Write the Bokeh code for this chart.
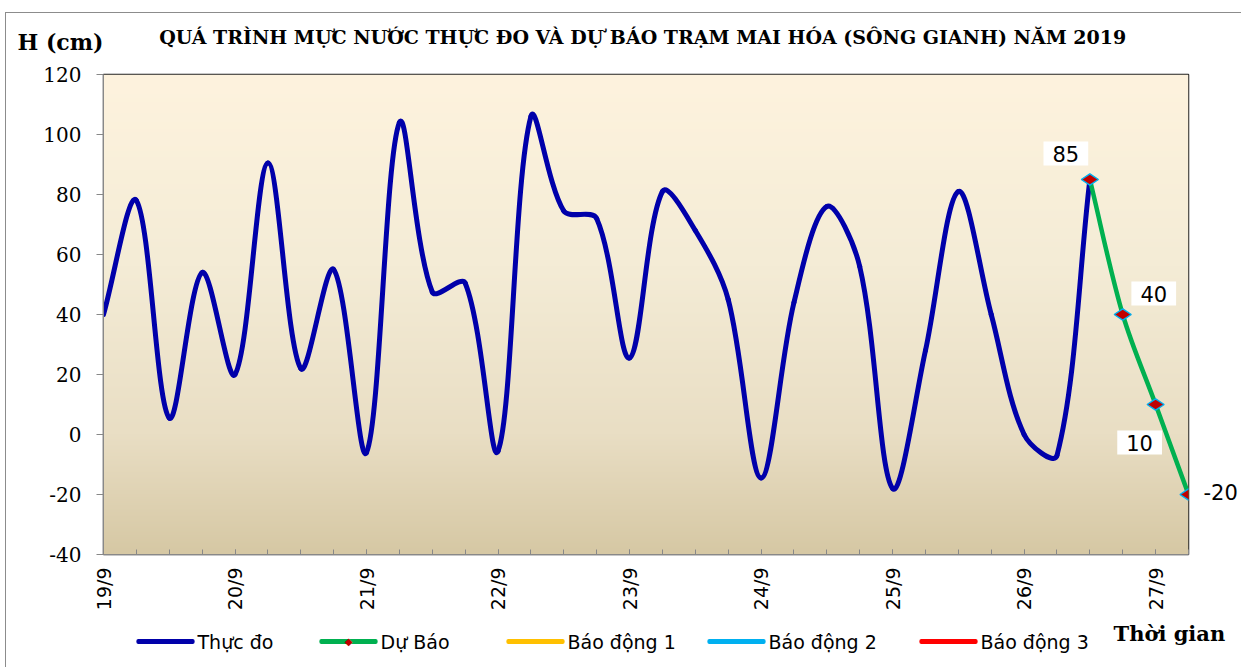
import numpy as np
from bokeh.plotting import figure
from bokeh.models import FixedTicker, Label, Range1d
from bokeh.embed import file_html
from bokeh.resources import INLINE

# ---------------- data ----------------
DATES = ["19/9", "20/9", "21/9", "22/9", "23/9", "24/9", "25/9", "26/9", "27/9"]
STEPS_PER_DAY = 4  # one value every 6 hours
MEASURED = [40, 78, 5.5, 54, 20, 90.5, 22, 55, -6, 104, 47.5, 50.5, -5.5, 106,
            74.5, 72, 25.5, 81, 68, 45, -14.5, 44, 76, 56, -18, 28, 81, 40,
            0, -7, 85]
FORECAST = [85, 40, 10, -20]
FORECAST_START = 30
ALARM1 = []
ALARM2 = []
ALARM3 = []
Y_TICKS = [-40, -20, 0, 20, 40, 60, 80, 100, 120]

TITLE = "QUÁ TRÌNH MỰC NƯỚC THỰC ĐO VÀ DỰ BÁO TRẠM MAI HÓA (SÔNG GIANH) NĂM  2019"
Y_TITLE = "H (cm)"
X_TITLE = "Thời gian"
LEGEND_NAMES = ["Thực đo", "Dự Báo", "Báo động 1", "Báo động 2", "Báo động 3"]

# ---------------- layout / style ----------------
FRAME_W, FRAME_H = 1085, 480
X0, X1 = 0, (len(DATES) - 1) * STEPS_PER_DAY + 1
Y0, Y1 = Y_TICKS[0], Y_TICKS[-1]
BLUE = "#0000AA"
GREEN = "#00B050"
LEGEND_COLORS = [BLUE, GREEN, "#FFC000", "#00B0F0", "#FF0000"]
SERIF = "DejaVu Serif"
SANS = "DejaVu Sans"

p = figure(frame_width=FRAME_W, frame_height=FRAME_H,
           min_border_left=97, min_border_right=53, min_border_top=61, min_border_bottom=60,
           x_range=Range1d(X0, X1), y_range=Range1d(Y0, Y1),
           output_backend="svg", toolbar_location=None, tools="")
p.styles = {"margin-left": "5px", "margin-top": "12px",
            "border-left": "1.5px solid #8c8c8c", "border-top": "1.5px solid #8c8c8c"}
p.background_fill_color = "white"
p.border_fill_color = "white"
p.outline_line_color = "#222222"
p.outline_line_width = 1.5
p.xgrid.visible = False
p.ygrid.visible = False

# gradient background
stops_t = [0.0, 0.25, 0.6, 1.0]
stops_c = [(214, 200, 164), (233, 222, 196), (244, 236, 214), (254, 243, 222)]
tt = np.linspace(0, 1, 480)
rgb = [np.interp(tt, stops_t, [c[k] for c in stops_c]) for k in range(3)]
img = np.zeros((480, 1), dtype=np.uint32)
view = img.view(dtype=np.uint8).reshape((480, 1, 4))
view[:, 0, 0] = rgb[0].astype(np.uint8)
view[:, 0, 1] = rgb[1].astype(np.uint8)
view[:, 0, 2] = rgb[2].astype(np.uint8)
view[:, 0, 3] = 255
p.image_rgba(image=[img], x=X0, y=Y0, dw=X1 - X0, dh=Y1 - Y0)

# smooth curve (Excel-like bezier through the data points)
SX = FRAME_W / (X1 - X0)
SY = FRAME_H / (Y1 - Y0)


def bezier_parts(xs, ys):
    n = len(xs)
    P = np.column_stack([np.asarray(xs, float), np.asarray(ys, float)])
    S = np.array([SX, SY])

    def d(a, b):
        return float(np.hypot(*((P[a] - P[b]) * S)))

    out = {k: [] for k in ("x0", "y0", "x1", "y1", "cx0", "cy0", "cx1", "cy1")}
    for i in range(n - 1):
        a = max(i - 1, 0)
        b = min(i + 2, n - 1)
        d01, d12, d23 = d(a, i), d(i, i + 1), d(i + 1, b)
        c0 = P[i] + (P[i + 1] - P[a]) / 3.0 * d12 / (d01 + d12)
        c1 = P[i + 1] - (P[b] - P[i]) / 3.0 * d12 / (d12 + d23)
        out["x0"].append(P[i][0]); out["y0"].append(P[i][1])
        out["x1"].append(P[i + 1][0]); out["y1"].append(P[i + 1][1])
        out["cx0"].append(c0[0]); out["cy0"].append(c0[1])
        out["cx1"].append(c1[0]); out["cy1"].append(c1[1])
    return out


mx = list(range(len(MEASURED)))
fx = list(range(FORECAST_START, FORECAST_START + len(FORECAST)))

p.bezier(**bezier_parts(mx, MEASURED), line_color=BLUE, line_width=5, line_cap="round")
p.bezier(**bezier_parts(fx, FORECAST), line_color=GREEN, line_width=4.5, line_cap="round")
p.scatter(fx, FORECAST, marker="diamond", size=17, angle=np.pi / 2,
          fill_color="#C00000", line_color="#00B0F0", line_width=1.5)
# alarm levels (not within the visible range)
p.line(ALARM1, ALARM1, line_color=LEGEND_COLORS[2], line_width=5)
p.line(ALARM2, ALARM2, line_color=LEGEND_COLORS[3], line_width=5)
p.line(ALARM3, ALARM3, line_color=LEGEND_COLORS[4], line_width=5)

# axes
xa = p.xaxis[0]
xa.ticker = FixedTicker(ticks=list(range(X0, X1, STEPS_PER_DAY)), minor_ticks=list(range(X0, X1 + 1)))
xa.major_label_overrides = {i * STEPS_PER_DAY: d for i, d in enumerate(DATES)}
xa.major_label_orientation = np.pi / 2
xa.major_label_standoff = 13
xa.major_tick_in = 5
xa.major_tick_out = 0
xa.minor_tick_in = 5
xa.minor_tick_out = 0
xa.axis_line_color = "#888888"
xa.major_tick_line_color = "#888888"
xa.minor_tick_line_color = "#888888"
xa.major_label_text_font = SANS
xa.major_label_text_font_size = "19px"
xa.major_label_text_color = "#000000"

ya = p.yaxis[0]
ya.ticker = FixedTicker(ticks=Y_TICKS)
ya.major_label_overrides = {t: str(t) for t in Y_TICKS}
ya.major_tick_in = 0
ya.major_tick_out = 7
ya.minor_tick_line_color = None
ya.axis_line_color = "#888888"
ya.major_tick_line_color = "#888888"
ya.major_label_standoff = 15
ya.major_label_text_font = SERIF
ya.major_label_text_font_size = "20px"
ya.major_label_text_color = "#000000"

# forecast value labels
LABEL_OFFSETS = [(-24, 26, "center"), (31, 21, "center"), (-16, -38, "center"), (15, 3, "left")]
for i, (xv, yv, (dx, dy, al)) in enumerate(zip(fx, FORECAST, LABEL_OFFSETS)):
    last = i == len(FORECAST) - 1
    lab = Label(x=xv, y=yv, x_offset=dx, y_offset=dy, text=f"{yv:g}",
                text_align=al, text_baseline="middle",
                text_font=SANS, text_font_size="21px", text_color="#000000",
                background_fill_color="white", padding=0 if last else (9, 4))
    p.add_layout(lab, "right" if last else "center")

# texts outside the frame live in the (overflowing) lower side panel so they are not clipped
p.add_layout(Label(x=(X0 + X1) / 2, y=Y1, y_offset=38, text=TITLE,
                   text_align="center", text_baseline="middle",
                   text_font=SERIF, text_font_style="bold", text_font_size="19px",
                   text_color="#000000"), "below")
p.add_layout(Label(x=X0, y=Y1, x_offset=-86, y_offset=33, text=Y_TITLE,
                   text_align="left", text_baseline="middle",
                   text_font=SERIF, text_font_style="bold", text_font_size="22px",
                   text_color="#000000"), "below")
p.add_layout(Label(x=X1, y=Y0, x_offset=-75, y_offset=-79, text=X_TITLE,
                   text_align="left", text_baseline="middle",
                   text_font=SERIF, text_font_style="bold", text_font_size="21px",
                   text_color="#000000"), "below")

# legend row under the axis: line sample + name for every series
LEG_X = [33, 216, 403, 604, 816]     # start of each line sample, px right of the frame's left edge
LEG_DY = -87                         # px below the frame's bottom edge
LEG_GLYPH = 58
for name, color, gx in zip(LEGEND_NAMES, LEGEND_COLORS, LEG_X):
    p.add_layout(Label(x=X0, y=Y0, x_offset=gx + LEG_GLYPH / 2, y_offset=LEG_DY, text=" ",
                       text_align="center", text_baseline="middle", text_font_size="1px",
                       background_fill_color=color, padding=(LEG_GLYPH // 2, 2),
                       border_radius=2), "below")
    p.add_layout(Label(x=X0, y=Y0, x_offset=gx + LEG_GLYPH + 3, y_offset=LEG_DY, text=name,
                       text_align="left", text_baseline="middle",
                       text_font=SANS, text_font_size="19px", text_color="#000000"), "below")
# forecast marker inside its legend sample
p.add_layout(Label(x=X0, y=Y0, x_offset=LEG_X[1] + LEG_GLYPH / 2, y_offset=LEG_DY, text="◆",
                   text_align="center", text_baseline="middle",
                   text_font=SANS, text_font_size="10px", text_color="#C00000"), "below")

open("out.html", "w").write(file_html(p, INLINE))
